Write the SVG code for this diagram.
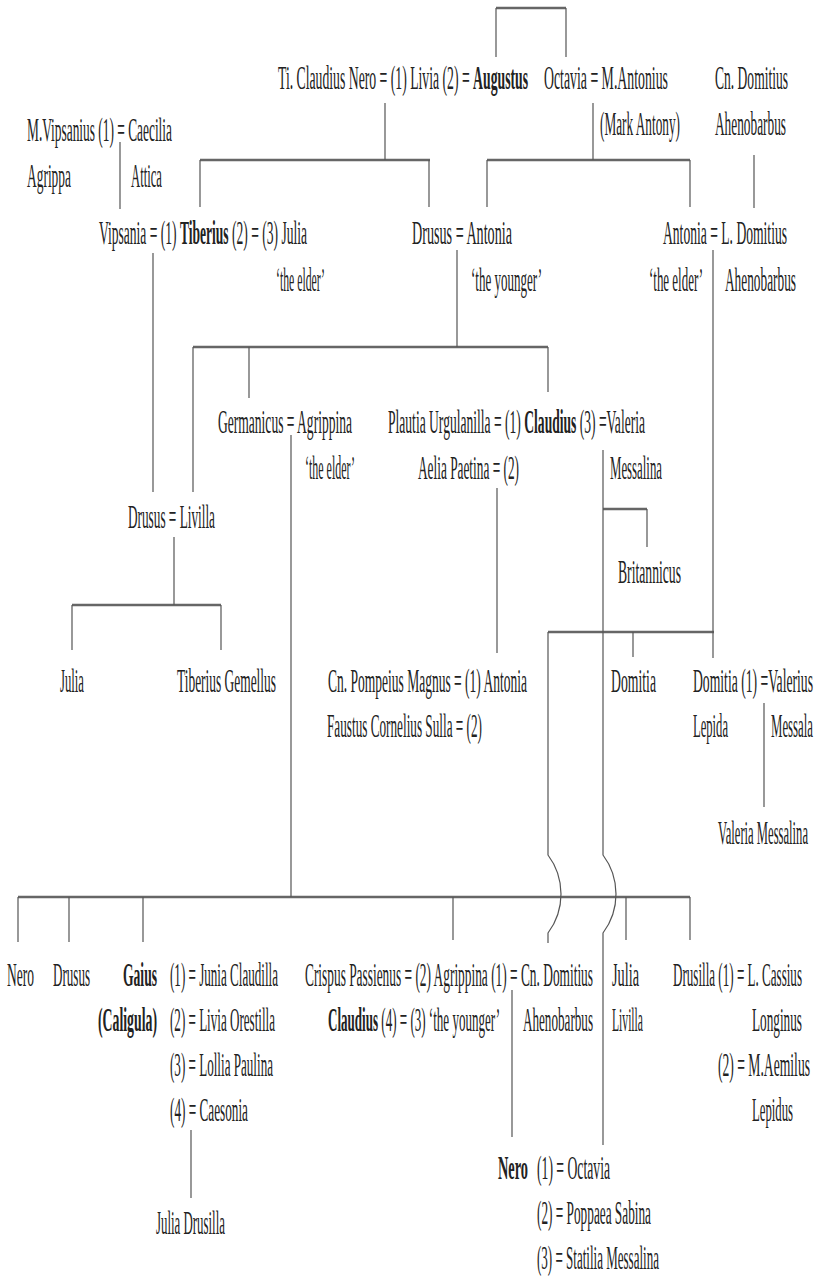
<svg xmlns="http://www.w3.org/2000/svg" width="817" height="1281" viewBox="0 0 817 1281">
<style>
text{font-family:"Liberation Serif","DejaVu Serif",serif;font-size:34px;fill:#222;}
.b{font-weight:bold;}
.v{stroke:#555;stroke-width:1.2;fill:none;}
.h{stroke:#666;stroke-width:2.6;fill:none;}
</style>
<rect width="817" height="1281" fill="#fff"/>
<g id="connectors">
<path class="h" d="M496 8H566M200 160H430M487 160H690M193 347H548M603 509H647M548 632H714M72 605H221M18 897H690"/>
<path class="v" d="M496 8V57M566 8V57M385 103V160M120 142V209M200 160V207M429 160V207M593 103V160M487 160V207M690 160V207M754 155V208M153 253V492M457 250V347M713 250V658M193 347V492M249 347V398M548 347V392M291 435V897M497 488V653M647 509V547M174 537V605M72 605V650M221 605V650M633 632V657M764 703V807M18 897V942M69 897V942M143 897V942M453 897V940M626 897V940M690 897V940M191 1130V1198M512 990V1137"/>
<path class="v" d="M603 450V855A65 65 0 0 1 603 933V1145"/>
<path class="v" d="M548 632V855A65 65 0 0 1 548 933V943"/>
</g>
<g id="n-claudiusnero-livia-augustus" transform="scale(0.4 1)"><text x="695" y="89" textLength="625" lengthAdjust="spacingAndGlyphs">Ti. Claudius Nero = (1) Livia (2) = <tspan class="b">Augustus</tspan></text></g>
<g id="n-octavia-antonius" transform="scale(0.4 1)"><text x="1360" y="89" textLength="310" lengthAdjust="spacingAndGlyphs">Octavia = M.Antonius</text><text x="1500" y="135" textLength="200" lengthAdjust="spacingAndGlyphs">(Mark Antony)</text></g>
<g id="n-cndomitius" transform="scale(0.4 1)"><text x="1787.5" y="89" textLength="182.5" lengthAdjust="spacingAndGlyphs">Cn. Domitius</text><text x="1787.5" y="135" textLength="177.5" lengthAdjust="spacingAndGlyphs">Ahenobarbus</text></g>
<g id="n-vipsanius" transform="scale(0.4 1)"><text x="67.5" y="141" textLength="362.5" lengthAdjust="spacingAndGlyphs">M.Vipsanius (1) = Caecilia</text><text x="67.5" y="187" textLength="110" lengthAdjust="spacingAndGlyphs">Agrippa</text><text x="327.5" y="187" textLength="77.5" lengthAdjust="spacingAndGlyphs">Attica</text></g>
<g id="n-tiberius" transform="scale(0.4 1)"><text x="247.5" y="244" textLength="520" lengthAdjust="spacingAndGlyphs">Vipsania = (1) <tspan class="b">Tiberius</tspan> (2) = (3) Julia</text><text x="690" y="291" textLength="122.5" lengthAdjust="spacingAndGlyphs">‘the elder’</text></g>
<g id="n-drusus-antonia" transform="scale(0.4 1)"><text x="1030" y="244" textLength="250" lengthAdjust="spacingAndGlyphs">Drusus = Antonia</text><text x="1177.5" y="291" textLength="177.5" lengthAdjust="spacingAndGlyphs">‘the younger’</text></g>
<g id="n-antonia-ldomitius" transform="scale(0.4 1)"><text x="1657.5" y="244" textLength="310" lengthAdjust="spacingAndGlyphs">Antonia = L. Domitius</text><text x="1622.5" y="291" textLength="135" lengthAdjust="spacingAndGlyphs">‘the elder’</text><text x="1812.5" y="291" textLength="177.5" lengthAdjust="spacingAndGlyphs">Ahenobarbus</text></g>
<g id="n-germanicus" transform="scale(0.4 1)"><text x="545" y="433" textLength="335" lengthAdjust="spacingAndGlyphs">Germanicus = Agrippina</text><text x="762.5" y="479" textLength="125" lengthAdjust="spacingAndGlyphs">‘the elder’</text></g>
<g id="n-claudius" transform="scale(0.4 1)"><text x="970" y="433" textLength="642.5" lengthAdjust="spacingAndGlyphs">Plautia Urgulanilla = (1) <tspan class="b">Claudius</tspan> (3) =Valeria</text><text x="1045" y="479" textLength="252.5" lengthAdjust="spacingAndGlyphs">Aelia Paetina = (2)</text><text x="1525" y="479" textLength="130" lengthAdjust="spacingAndGlyphs">Messalina</text></g>
<g id="n-drusus-livilla" transform="scale(0.4 1)"><text x="320" y="528" textLength="217.5" lengthAdjust="spacingAndGlyphs">Drusus = Livilla</text></g>
<g id="n-britannicus" transform="scale(0.4 1)"><text x="1545" y="583" textLength="157.5" lengthAdjust="spacingAndGlyphs">Britannicus</text></g>
<g id="n-julia" transform="scale(0.4 1)"><text x="150" y="692" textLength="60" lengthAdjust="spacingAndGlyphs">Julia</text></g>
<g id="n-gemellus" transform="scale(0.4 1)"><text x="442.5" y="692" textLength="247.5" lengthAdjust="spacingAndGlyphs">Tiberius Gemellus</text></g>
<g id="n-antonia-pompeius" transform="scale(0.4 1)"><text x="820" y="692" textLength="497.5" lengthAdjust="spacingAndGlyphs">Cn. Pompeius Magnus = (1) Antonia</text><text x="817.5" y="737" textLength="387.5" lengthAdjust="spacingAndGlyphs">Faustus Cornelius Sulla = (2)</text></g>
<g id="n-domitia" transform="scale(0.4 1)"><text x="1527.5" y="692" textLength="112.5" lengthAdjust="spacingAndGlyphs">Domitia</text></g>
<g id="n-domitia-lepida" transform="scale(0.4 1)"><text x="1732.5" y="692" textLength="300" lengthAdjust="spacingAndGlyphs">Domitia (1) =Valerius</text><text x="1732.5" y="737" textLength="87.5" lengthAdjust="spacingAndGlyphs">Lepida</text><text x="1927.5" y="737" textLength="105" lengthAdjust="spacingAndGlyphs">Messala</text></g>
<g id="n-valeria-messalina" transform="scale(0.4 1)"><text x="1795" y="844" textLength="225" lengthAdjust="spacingAndGlyphs">Valeria Messalina</text></g>
<g id="n-nero-son" transform="scale(0.4 1)"><text x="17.5" y="986" textLength="67.5" lengthAdjust="spacingAndGlyphs">Nero</text></g>
<g id="n-drusus-son" transform="scale(0.4 1)"><text x="132.5" y="986" textLength="92.5" lengthAdjust="spacingAndGlyphs">Drusus</text></g>
<g id="n-gaius" transform="scale(0.4 1)"><text class="b" x="307.5" y="986" textLength="85" lengthAdjust="spacingAndGlyphs">Gaius</text><text class="b" x="245" y="1031" textLength="147.5" lengthAdjust="spacingAndGlyphs">(Caligula)</text><text x="425" y="986" textLength="270" lengthAdjust="spacingAndGlyphs">(1) = Junia Claudilla</text><text x="425" y="1031" textLength="262.5" lengthAdjust="spacingAndGlyphs">(2) = Livia Orestilla</text><text x="425" y="1076" textLength="257.5" lengthAdjust="spacingAndGlyphs">(3) = Lollia Paulina</text><text x="425" y="1121" textLength="195" lengthAdjust="spacingAndGlyphs">(4) = Caesonia</text></g>
<g id="n-julia-drusilla" transform="scale(0.4 1)"><text x="390" y="1234" textLength="172.5" lengthAdjust="spacingAndGlyphs">Julia Drusilla</text></g>
<g id="n-agrippina-younger" transform="scale(0.4 1)"><text x="762.5" y="986" textLength="720" lengthAdjust="spacingAndGlyphs">Crispus Passienus = (2) Agrippina (1) = Cn. Domitius</text><text x="820" y="1031" textLength="430" lengthAdjust="spacingAndGlyphs"><tspan class="b">Claudius</tspan> (4) = (3) ‘the younger’</text><text x="1307.5" y="1031" textLength="175" lengthAdjust="spacingAndGlyphs">Ahenobarbus</text></g>
<g id="n-julia-livilla" transform="scale(0.4 1)"><text x="1530" y="986" textLength="67.5" lengthAdjust="spacingAndGlyphs">Julia</text><text x="1530" y="1031" textLength="77.5" lengthAdjust="spacingAndGlyphs">Livilla</text></g>
<g id="n-drusilla" transform="scale(0.4 1)"><text x="1682.5" y="986" textLength="322.5" lengthAdjust="spacingAndGlyphs">Drusilla (1) = L. Cassius</text><text x="1880" y="1031" textLength="125" lengthAdjust="spacingAndGlyphs">Longinus</text><text x="1795" y="1076" textLength="230" lengthAdjust="spacingAndGlyphs">(2) = M.Aemilus</text><text x="1880" y="1121" textLength="102.5" lengthAdjust="spacingAndGlyphs">Lepidus</text></g>
<g id="n-nero-emperor" transform="scale(0.4 1)"><text class="b" x="1245" y="1179" textLength="75" lengthAdjust="spacingAndGlyphs">Nero</text><text x="1342.5" y="1179" textLength="182.5" lengthAdjust="spacingAndGlyphs">(1) = Octavia</text><text x="1342.5" y="1224" textLength="285" lengthAdjust="spacingAndGlyphs">(2) = Poppaea Sabina</text><text x="1342.5" y="1269" textLength="305" lengthAdjust="spacingAndGlyphs">(3) = Statilia Messalina</text></g>
</svg>
